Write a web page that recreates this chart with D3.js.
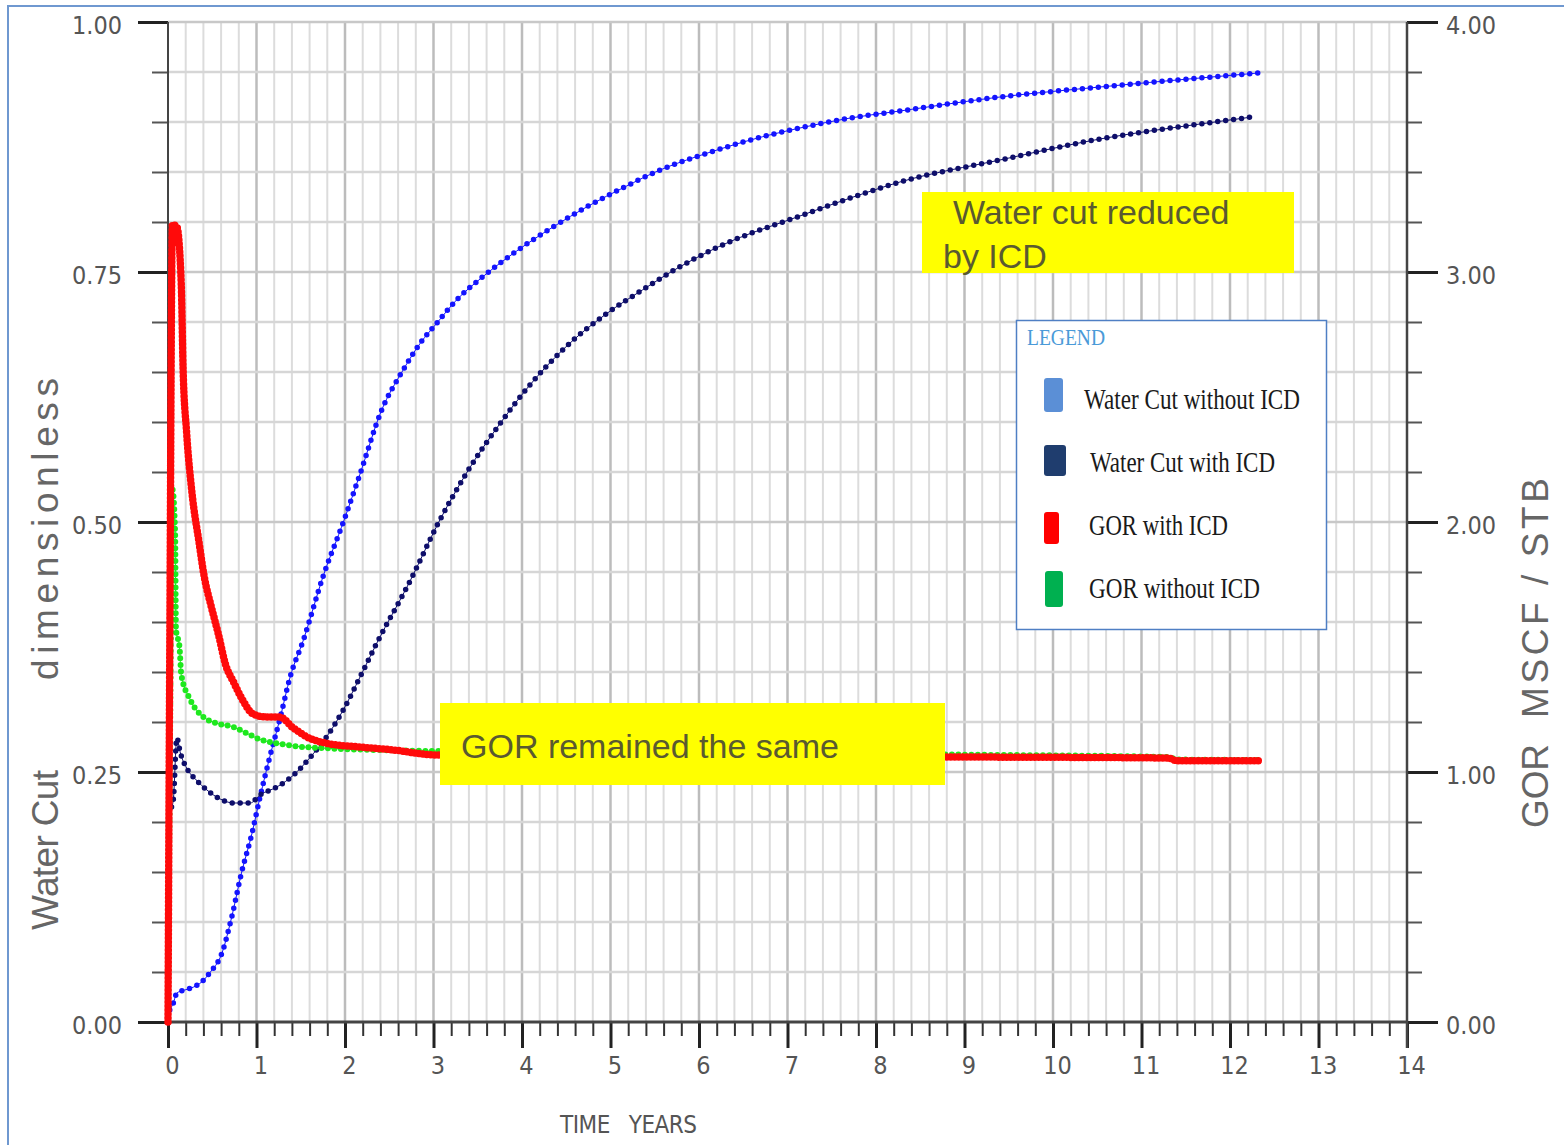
<!DOCTYPE html>
<html>
<head>
<meta charset="utf-8">
<script src="https://cdn.jsdelivr.net/npm/d3@7"></script>
<style>
  body { margin: 0; background: #fff; }
  svg { display: block; }
</style>
</head>
<body>
<div id="chart"></div>
<script>
// Water cut without ICD (fraction) vs time (years)
let wcNoIcdT = [0.02, 0.06, 0.10, 0.19, 0.29, 0.38, 0.47, 0.61, 0.72, 0.83, 0.95, 1.04, 1.15, 1.27, 1.38, 1.53, 1.75, 1.99, 2.17, 2.41,
                2.65, 2.86, 3.02, 3.26, 3.54, 3.94, 4.35, 4.75, 5.16, 5.56, 5.96, 6.24, 6.58, 7.14, 7.71, 8.27, 9.40, 10.53, 11.66, 12.32];
let wcNoIcdV = [0.012, 0.019, 0.029, 0.032, 0.035, 0.040, 0.049, 0.069, 0.105, 0.149, 0.189, 0.225, 0.265, 0.305, 0.345, 0.382, 0.445, 0.502, 0.548, 0.611,
                0.651, 0.680, 0.697, 0.722, 0.744, 0.771, 0.795, 0.816, 0.835, 0.852, 0.865, 0.873, 0.882, 0.894, 0.904, 0.911, 0.925, 0.935, 0.944, 0.949];

// Water cut with ICD
let wcIcdT = [0.04, 0.06, 0.10, 0.14, 0.21, 0.32, 0.44, 0.59, 0.74, 0.93, 1.04, 1.23, 1.42, 1.60, 1.79, 1.98, 2.17, 2.36, 2.73, 3.06,
              3.38, 3.74, 4.07, 4.47, 4.95, 5.36, 5.76, 6.24, 7.14, 7.71, 8.27, 9.40, 10.53, 11.66, 12.25];
let wcIcdV = [0.215, 0.222, 0.284, 0.269, 0.254, 0.242, 0.232, 0.223, 0.219, 0.219, 0.227, 0.235, 0.247, 0.264, 0.285, 0.312, 0.345, 0.379, 0.440, 0.500,
              0.550, 0.597, 0.635, 0.673, 0.708, 0.732, 0.754, 0.776, 0.806, 0.824, 0.840, 0.862, 0.883, 0.898, 0.905];

// GOR with ICD (MSCF/STB)
let gorIcdT = [0.00, 0.02, 0.05, 0.10, 0.15, 0.17, 0.21, 0.27, 0.35, 0.41, 0.49, 0.57, 0.65, 0.74, 0.84, 0.97, 1.12, 1.26, 1.42, 1.60,
               1.79, 2.17, 2.55, 3.03, 9.00, 11.30, 11.40, 12.35];
let gorIcdV = [0.00, 1.50, 3.19, 3.18, 2.95, 2.62, 2.36, 2.12, 1.92, 1.78, 1.66, 1.55, 1.43, 1.36, 1.29, 1.23, 1.22, 1.22, 1.175, 1.135,
               1.115, 1.10, 1.088, 1.068, 1.06, 1.056, 1.045, 1.045];

// GOR without ICD
let gorNoIcdT = [0.00, 0.02, 0.05, 0.08, 0.09, 0.13, 0.15, 0.25, 0.40, 0.55, 0.74, 0.89, 1.04, 1.23, 1.42, 1.79, 2.36, 3.00, 8.80, 11.30, 11.40, 12.35];
let gorNoIcdV = [0.00, 1.00, 2.13, 1.96, 1.57, 1.50, 1.39, 1.29, 1.22, 1.195, 1.18, 1.155, 1.13, 1.115, 1.104, 1.095, 1.088, 1.084, 1.07, 1.06, 1.05, 1.048];

// tick labels
let yearTicks = [0, 1, 2, 3, 4, 5, 6, 7, 8, 9, 10, 11, 12, 13, 14];
let wcTicks = [0, 0.25, 0.5, 0.75, 1];
let gorTicks = [0, 1, 2, 3, 4];

let legendNames = ['Water Cut without ICD', 'Water Cut with ICD', 'GOR with ICD', 'GOR without ICD'];
let legendColors = ['#5b8fd6', '#1f3d6e', '#ff0000', '#00b050'];

let chart_width = 1564;
let chart_height = 1145;

let svg = d3.select('#chart')
    .append('svg')
    .attr('width', chart_width)
    .attr('height', chart_height);

let tickFont = "'Liberation Sans Narrow', 'DejaVu Sans Condensed', 'Liberation Sans', sans-serif";
let sansFont = "'Liberation Sans', Arial, sans-serif";

let x_scale = d3.scaleLinear().domain([0, 14]).range([168, 1407]);
let y_wc = d3.scaleLinear().domain([0, 1]).range([1022, 22]);
let y_gor = d3.scaleLinear().domain([0, 4]).range([1022, 22]);

// outer frame
svg.append('rect')
    .attr('x', 8).attr('y', 6)
    .attr('width', 1600).attr('height', 1200)
    .attr('fill', 'none')
    .attr('stroke', '#6f98d0')
    .attr('stroke-width', 2);

// grid
let grid = svg.append('g');
let xMinor = d3.range(1, 70).map(i => i / 5);
let isYear = d => Math.abs(d - Math.round(d)) < 1e-6;
grid.selectAll('.vg')
    .data(xMinor)
    .enter()
    .append('line')
    .attr('x1', d => x_scale(d)).attr('x2', d => x_scale(d))
    .attr('y1', y_wc(1)).attr('y2', y_wc(0))
    .attr('stroke', d => isYear(d) ? '#bcbcbc' : '#dcdcdc')
    .attr('stroke-width', d => isYear(d) ? 2.5 : 2);

let yMinor = d3.range(1, 21).map(i => i / 20);
grid.selectAll('.hg')
    .data(yMinor)
    .enter()
    .append('line')
    .attr('x1', x_scale(0)).attr('x2', x_scale(14))
    .attr('y1', d => y_wc(d)).attr('y2', d => y_wc(d))
    .attr('stroke', d => isYear(d * 4) ? '#c8c8c8' : '#d6d6d6')
    .attr('stroke-width', 2.5);

// axes
function styleAxis(g, width, color) {
    g.select('.domain').remove();
    g.selectAll('.tick line').attr('stroke', color).attr('stroke-width', width);
    g.selectAll('.tick text')
        .attr('font-family', tickFont)
        .attr('font-size', 25)
        .attr('fill', '#555');
}

// left
svg.append('g')
    .attr('transform', 'translate(168,0)')
    .call(d3.axisLeft(y_wc).tickValues(yMinor.filter(d => !isYear(d * 4))).tickSize(16).tickFormat(''))
    .call(g => styleAxis(g, 2, '#555'));
svg.append('g')
    .attr('transform', 'translate(168,0)')
    .call(d3.axisLeft(y_wc).tickValues(wcTicks).tickSize(30).tickPadding(16).tickFormat(d3.format('.2f')))
    .call(g => styleAxis(g, 3, '#222'))
    .call(g => g.selectAll('.tick text').attr('dy', '0.45em'));

// right
svg.append('g')
    .attr('transform', 'translate(1407,0)')
    .call(d3.axisRight(y_gor).tickValues(d3.range(1, 20).map(i => i / 5).filter(d => !isYear(d))).tickSize(15).tickFormat(''))
    .call(g => styleAxis(g, 2, '#555'));
svg.append('g')
    .attr('transform', 'translate(1407,0)')
    .call(d3.axisRight(y_gor).tickValues(gorTicks).tickSize(31).tickPadding(8).tickFormat(d3.format('.2f')))
    .call(g => styleAxis(g, 3, '#222'))
    .call(g => g.selectAll('.tick text').attr('dy', '0.45em'));

// bottom
svg.append('g')
    .attr('transform', 'translate(0,1022)')
    .call(d3.axisBottom(x_scale).tickValues(xMinor.filter(d => !isYear(d))).tickSize(14).tickFormat(''))
    .call(g => styleAxis(g, 2, '#333'));
svg.append('g')
    .attr('transform', 'translate(0,1022)')
    .call(d3.axisBottom(x_scale).tickValues(yearTicks).tickSize(26).tickPadding(8).tickFormat(d3.format('d')))
    .call(g => styleAxis(g, 3, '#222'))
    .call(g => g.selectAll('.tick text').attr('x', 4));

// axis lines
svg.append('line').attr('x1', 168).attr('x2', 168).attr('y1', y_wc(1)).attr('y2', y_wc(0))
    .attr('stroke', '#444').attr('stroke-width', 2);
svg.append('line').attr('x1', 1407).attr('x2', 1407).attr('y1', y_wc(1)).attr('y2', y_wc(0) + 26)
    .attr('stroke', '#444').attr('stroke-width', 2.5);
svg.append('line').attr('x1', 168).attr('x2', 1407).attr('y1', 1022).attr('y2', 1022)
    .attr('stroke', '#444').attr('stroke-width', 3);

// axis titles
function vTitle(x, yMid, len, txt) {
    svg.append('text')
        .attr('transform', 'translate(' + x + ',' + yMid + ') rotate(-90)')
        .attr('text-anchor', 'middle')
        .attr('font-family', sansFont)
        .attr('font-size', 37)
        .attr('fill', '#666')
        .attr('textLength', len)
        .attr('lengthAdjust', 'spacing')
        .attr('xml:space', 'preserve')
        .text(txt);
}
vTitle(58, 850, 160, 'Water Cut');
vTitle(58, 529, 302, 'dimensionless');
vTitle(1548, 786, 84, 'GOR');
vTitle(1548, 598, 240, 'MSCF / STB');

svg.append('text')
    .attr('x', 560).attr('y', 1133)
    .attr('font-family', tickFont)
    .attr('font-size', 24)
    .attr('fill', '#555')
    .attr('textLength', 137)
    .attr('lengthAdjust', 'spacing')
    .attr('xml:space', 'preserve')
    .text('TIME   YEARS');

// series
function pairs(ts, vs) {
    return ts.map((t, i) => [t, vs[i]]);
}
let series = [
    { pts: pairs(wcNoIcdT, wcNoIcdV), y: y_wc, color: '#1414ff', w: 5.5, gap: 8 },
    { pts: pairs(wcIcdT, wcIcdV), y: y_wc, color: '#0e0e6a', w: 5.5, gap: 8 },
    { pts: pairs(gorNoIcdT, gorNoIcdV), y: y_gor, color: '#1ee81e', w: 6, gap: 6.5 },
    { pts: pairs(gorIcdT, gorIcdV), y: y_gor, color: '#ff0a0a', w: 7.5, gap: 4 }
];

series.forEach(function (s) {
    let line = d3.line()
        .x(d => x_scale(d[0]))
        .y(d => s.y(d[1]))
        .curve(d3.curveMonotoneX);
    svg.append('path')
        .attr('d', line(s.pts))
        .attr('fill', 'none')
        .attr('stroke', s.color)
        .attr('stroke-width', 1);
    svg.append('path')
        .attr('d', line(s.pts))
        .attr('fill', 'none')
        .attr('stroke', s.color)
        .attr('stroke-width', s.w)
        .attr('stroke-linecap', 'round')
        .attr('stroke-dasharray', '0 ' + s.gap);
});

// annotation boxes
let noteColor = '#5a5a30';
svg.append('rect')
    .attr('x', 922).attr('y', 192).attr('width', 372).attr('height', 81)
    .attr('fill', '#ffff00');
svg.append('text')
    .attr('x', 953).attr('y', 224)
    .attr('font-family', sansFont)
    .attr('font-size', 34)
    .attr('fill', noteColor)
    .text('Water cut reduced');
svg.append('text')
    .attr('x', 943).attr('y', 268)
    .attr('font-family', sansFont)
    .attr('font-size', 34)
    .attr('fill', noteColor)
    .text('by ICD');

svg.append('rect')
    .attr('x', 440).attr('y', 703).attr('width', 505).attr('height', 82)
    .attr('fill', '#ffff00');
svg.append('text')
    .attr('x', 461).attr('y', 758)
    .attr('font-family', sansFont)
    .attr('font-size', 34)
    .attr('fill', noteColor)
    .text('GOR remained the same');

// legend
let legend = svg.append('g');
legend.append('rect')
    .attr('x', 1016.5).attr('y', 320.5).attr('width', 310).attr('height', 309)
    .attr('fill', '#fff')
    .attr('stroke', '#4f7fc4')
    .attr('stroke-width', 1.5);
legend.append('text')
    .attr('x', 1027).attr('y', 345)
    .attr('font-family', "'Liberation Serif', 'Times New Roman', serif")
    .attr('font-size', 23)
    .attr('fill', '#4a9ad8')
    .attr('textLength', 78)
    .attr('lengthAdjust', 'spacingAndGlyphs')
    .text('LEGEND');

let swatch = [
    { x: 1044, y: 378, w: 19, h: 34 },
    { x: 1044, y: 445, w: 22, h: 31 },
    { x: 1044, y: 512, w: 15, h: 32 },
    { x: 1045, y: 571, w: 18, h: 36 }
];
let legText = [
    { x: 1084, y: 409, len: 216 },
    { x: 1090, y: 472, len: 185 },
    { x: 1089, y: 535, len: 139 },
    { x: 1089, y: 598, len: 171 }
];
legend.selectAll('.sw')
    .data(legendNames)
    .enter()
    .append('rect')
    .attr('x', (d, i) => swatch[i].x)
    .attr('y', (d, i) => swatch[i].y)
    .attr('width', (d, i) => swatch[i].w)
    .attr('height', (d, i) => swatch[i].h)
    .attr('rx', 3)
    .attr('fill', (d, i) => legendColors[i]);
legend.selectAll('.lt')
    .data(legendNames)
    .enter()
    .append('text')
    .attr('x', (d, i) => legText[i].x)
    .attr('y', (d, i) => legText[i].y)
    .attr('font-family', "'Liberation Serif', 'Times New Roman', serif")
    .attr('font-size', 29)
    .attr('fill', '#1a1a1a')
    .attr('textLength', (d, i) => legText[i].len)
    .attr('lengthAdjust', 'spacingAndGlyphs')
    .text(d => d);
</script>
</body>
</html>
